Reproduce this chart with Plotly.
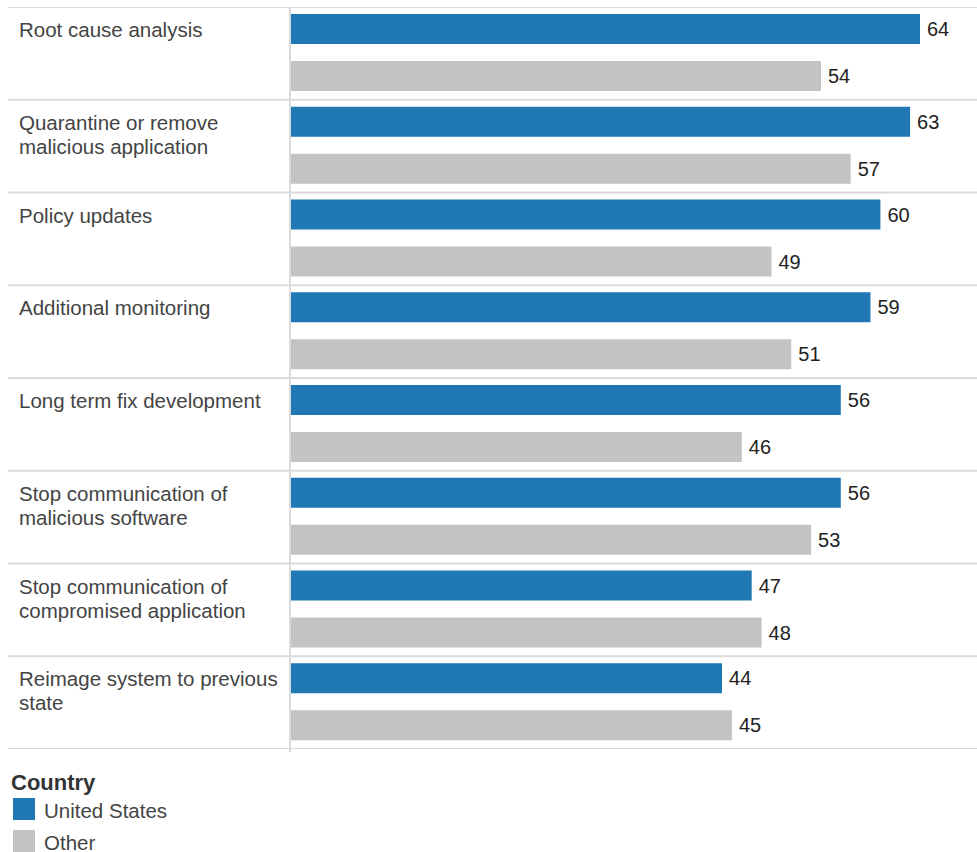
import plotly.graph_objects as go

categories = [
    "Root cause analysis",
    "Quarantine or remove<br>malicious application",
    "Policy updates",
    "Additional monitoring",
    "Long term fix development",
    "Stop communication of<br>malicious software",
    "Stop communication of<br>compromised application",
    "Reimage system to previous<br>state",
]
us_values = [64, 63, 60, 59, 56, 56, 47, 44]
other_values = [54, 57, 49, 51, 46, 53, 48, 45]
series_names = ["United States", "Other"]
series_colors = ["#1f77b4", "#c3c3c3"]
legend_title = "Country"

W, H = 977, 852
ML, MR, MT, MB = 290, 0, 7, 103
PW, PH = W - ML - MR, H - MT - MB


def px_x(px):
    return (px - ML) / PW


def px_y(py):
    return (H - MB - py) / PH


FONT = "Liberation Sans, Arial, sans-serif"
idx = list(range(len(categories)))

fig = go.Figure()
for name, vals, col, off in [
    (series_names[0], us_values, series_colors[0], -0.424),
    (series_names[1], other_values, series_colors[1], 0.083),
]:
    fig.add_trace(go.Bar(
        name=name, y=idx, x=vals, orientation="h",
        marker=dict(color=col, line=dict(width=0)),
        offset=off, width=0.324,
        text=["\u2009" + str(v) for v in vals], textposition="outside",
        textfont=dict(family=FONT, size=20, color="#222222"),
        cliponaxis=True, showlegend=False,
    ))

shapes = []
for i in range(len(categories) + 1):
    shapes.append(dict(type="line", xref="paper", yref="y",
                       x0=px_x(8), x1=1, y0=i - 0.5, y1=i - 0.5,
                       line=dict(color="#dadada", width=2), layer="below"))
shapes.append(dict(type="line", xref="paper", yref="paper",
                   x0=0, x1=0, y0=px_y(752), y1=1,
                   line=dict(color="#dadada", width=2), layer="above"))

annotations = []
for i, c in enumerate(categories):
    for j, line in enumerate(c.split("<br>")):
        annotations.append(dict(
            text=line, xref="paper", yref="y", x=px_x(17), y=i - 0.5,
            xanchor="left", yanchor="top", yshift=-9 - 24 * j, align="left",
            showarrow=False, font=dict(family=FONT, size=20.5, color="#444444")))

annotations.append(dict(
    text="<b>" + legend_title + "</b>", xref="paper", yref="paper",
    x=px_x(9), y=px_y(782), xanchor="left", yanchor="middle",
    showarrow=False, font=dict(family=FONT, size=22, color="#333333")))
for k, (nm, col) in enumerate(zip(series_names, series_colors)):
    top = 798 + k * 32
    shapes.append(dict(type="rect", xref="paper", yref="paper",
                       x0=px_x(13), x1=px_x(35), y0=px_y(top + 22), y1=px_y(top),
                       fillcolor=col, line=dict(width=0)))
    annotations.append(dict(
        text=nm, xref="paper", yref="paper", x=px_x(42), y=px_y(top + 12),
        xanchor="left", yanchor="middle", showarrow=False,
        font=dict(family=FONT, size=20.5, color="#444444")))

fig.update_layout(
    width=W, height=H,
    margin=dict(l=ML, r=MR, t=MT, b=MB, pad=0),
    paper_bgcolor="white", plot_bgcolor="white",
    barmode="overlay",
    xaxis=dict(range=[0.36, 69.76], visible=False, fixedrange=True),
    yaxis=dict(range=[len(categories) - 0.5, -0.5], showticklabels=False,
               showgrid=False, zeroline=False, showline=False, fixedrange=True),
    shapes=shapes, annotations=annotations,
    showlegend=False,
)

fig.write_html("out.html", config={"displayModeBar": False},
               post_script="document.body.style.margin='0';")
